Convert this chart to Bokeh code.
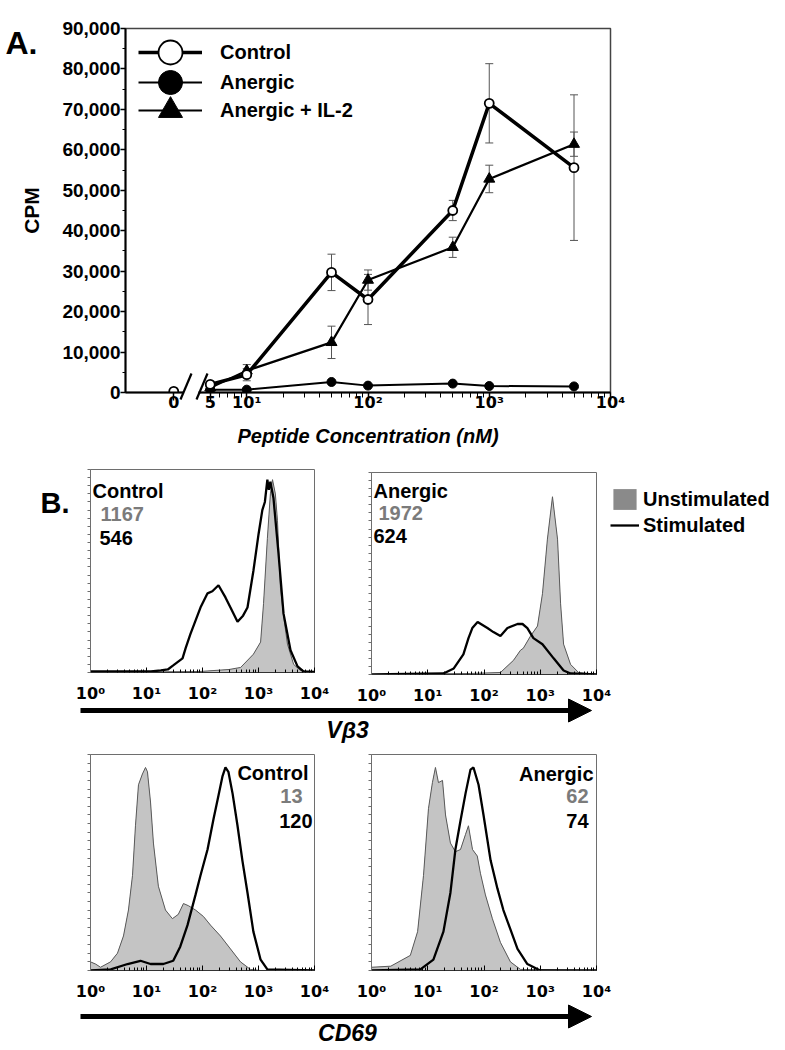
from bokeh.plotting import figure
from bokeh.models import (ColumnDataSource, FixedTicker, Whisker, TeeHead, Legend, LegendItem,
                          Label, Arrow, NormalHead, Range1d, NumeralTickFormatter)
from bokeh.layouts import column, row
from bokeh.embed import file_html
from bokeh.resources import INLINE

FONT = "Liberation Sans"
TICK_FONT = "DejaVu Sans"

# ---------------- Panel A data ----------------
conc_nM = [0, 5, 10, 50, 100, 500, 1000, 5000]
control_cpm = [300, 2000, 4400, 29700, 23000, 45000, 71500, 55600]
control_err = [0, 300, 1500, 4500, 6200, 2500, 9800, 18000]

stim_conc_nM = [5, 10, 50, 100, 500, 1000, 5000]
anergic_cpm = [700, 700, 2600, 1700, 2200, 1600, 1500]
anergic_err = [200, 200, 400, 300, 300, 200, 200]
il2_cpm = [1200, 5400, 12400, 27800, 35900, 52800, 61400]
il2_err = [300, 1500, 4000, 2500, 2500, 3400, 3000]

ZERO_POS = 2.5  # where the "0 nM" point sits, left of the axis break
x_tick_values = [2.5, 5, 10, 100, 1000, 10000]
x_tick_labels = ["0", "5", "10¹", "10²", "10³", "10⁴"]
y_tick_values = list(range(0, 90001, 10000))
series_names = ["Control", "Anergic", "Anergic + IL-2"]

# ---------------- Panel B data (relative cell counts, % of frame height) ----------------
hist_tick_values = [1, 10, 100, 1000, 10000]
hist_tick_labels = ["10⁰", "10¹", "10²", "10³", "10⁴"]

vb3_ctrl_unstim_x = [1, 90, 300, 480, 810, 1090, 1230, 1440, 1630, 1780, 2000, 2180, 2460, 2800, 3290, 4240, 5620, 10000]
vb3_ctrl_unstim_y = [0, 0.5, 1.5, 2.5, 9, 15, 34, 66, 88, 95, 88, 75, 42, 28, 14, 4, 1, 0]
vb3_ctrl_stim_x = [1, 12, 18, 24, 30, 44, 50, 61, 92, 123, 150, 193, 257, 316, 422, 530, 636, 810, 1000, 1170, 1300, 1440, 1530, 1630, 1850, 2270, 2800, 3730, 4980, 6340, 10000]
vb3_ctrl_stim_y = [0.5, 0.5, 1, 1.5, 3.5, 7, 12, 19, 32, 39, 40, 43, 37, 32, 25, 28, 32, 50, 68, 80, 84, 95, 90, 94, 86, 59, 29, 11, 3, 0.5, 0.3]

vb3_anerg_unstim_x = [1, 58, 196, 334, 445, 500, 670, 893, 1095, 1340, 1650, 2030, 2300, 2600, 3460, 4790, 10000]
vb3_anerg_unstim_y = [0, 0.5, 1, 7, 12, 13, 19, 24, 40, 67, 88, 67, 35, 15, 5, 1, 0]
vb3_anerg_stim_x = [1, 19, 29, 43, 53, 62, 77, 115, 147, 196, 261, 394, 484, 590, 756, 1095, 1730, 2600, 3460, 10000]
vb3_anerg_stim_y = [0, 0.5, 3, 10, 18, 23, 26, 23, 21, 19, 23, 25, 25, 23, 18, 15, 8, 2, 0.5, 0]

cd69_ctrl_unstim_x = [1, 1.23, 1.51, 2.28, 3.03, 3.88, 4.76, 5.62, 6.35, 7.19, 8.46, 9.6, 10.4, 11.8, 13.3, 16.3, 21.8, 29, 37, 45.7, 56, 75, 104, 139, 209, 316, 477, 720, 1080, 10000]
cd69_ctrl_unstim_y = [4, 3, 1.5, 4, 8, 16, 28, 44, 67, 86, 91, 94, 92, 78, 59, 39, 28, 24, 26, 31, 30, 28, 25, 21, 16, 10, 4, 0.5, 0, 0]
cd69_ctrl_stim_x = [1, 2.3, 4.6, 7.8, 11.8, 20, 30, 40, 54, 75, 92, 123, 157, 193, 228, 257, 290, 344, 422, 515, 636, 810, 1090, 1440, 10000]
cd69_ctrl_stim_y = [0, 0.5, 3, 4.5, 3, 3, 4.5, 11, 21, 35, 44, 56, 70, 81, 90, 94, 92, 82, 67, 51, 36, 18, 5, 0.5, 0]

cd69_anerg_unstim_x = [1, 2.2, 4.9, 6.6, 8.4, 10.3, 12.1, 13.7, 15.5, 18.3, 20.7, 25.3, 31, 38.2, 46.9, 52.9, 62.5, 76, 86.4, 106, 141, 196, 295, 445, 10000]
cd69_anerg_unstim_y = [1.5, 2, 7, 18, 44, 75, 87, 94, 87, 88, 72, 59, 55, 56, 63, 67, 56, 53, 45, 35, 24, 13, 4, 0.5, 0]
cd69_anerg_stim_x = [1, 7.4, 12.6, 19, 25.3, 31, 38, 47, 57.5, 65, 80, 98, 131, 173, 221, 295, 394, 590, 1000, 10000]
cd69_anerg_stim_y = [0, 0.5, 5, 18, 36, 56, 69, 82, 93, 94, 86, 72, 51, 38, 28, 19, 10, 3, 0, 0]


def overlay(width, height):
    """Transparent, axis-less figure whose data units are its own pixels (y downwards)."""
    p = figure(width=width, height=height, x_range=Range1d(0, width), y_range=Range1d(height, 0),
               x_axis_location=None, y_axis_location=None, min_border=0, frame_align=False,
               output_backend="svg", toolbar_location=None)
    p.grid.visible = False
    p.outline_line_color = None
    p.background_fill_alpha = 0
    p.border_fill_alpha = 0
    return p


# ======================= Panel A =======================
def xpos(c):
    return ZERO_POS if c == 0 else c


ctrl_src = ColumnDataSource(dict(x=[xpos(c) for c in conc_nM], y=control_cpm))
ctrl_line_src = ColumnDataSource(dict(x=[c for c in conc_nM if c > 0],
                                      y=[v for c, v in zip(conc_nM, control_cpm) if c > 0]))
ctrl_err_src = ColumnDataSource(dict(
    x=[xpos(c) for c, e in zip(conc_nM, control_err) if e > 0],
    upper=[v + e for v, e in zip(control_cpm, control_err) if e > 0],
    lower=[v - e for v, e in zip(control_cpm, control_err) if e > 0]))
anerg_src = ColumnDataSource(dict(x=stim_conc_nM, y=anergic_cpm,
                                  upper=[v + e for v, e in zip(anergic_cpm, anergic_err)],
                                  lower=[v - e for v, e in zip(anergic_cpm, anergic_err)]))
il2_src = ColumnDataSource(dict(x=stim_conc_nM, y=il2_cpm,
                                upper=[v + e for v, e in zip(il2_cpm, il2_err)],
                                lower=[v - e for v, e in zip(il2_cpm, il2_err)]))

pA = figure(x_axis_type="log", x_range=Range1d(1, 10000), y_range=Range1d(0, 90000),
            frame_width=485, frame_height=364, min_border_left=125, min_border_right=30,
            min_border_top=28, min_border_bottom=58, frame_align=False,
            output_backend="svg", toolbar_location=None)
pA.grid.visible = False
pA.outline_line_color = "#444444"
pA.outline_line_width = 1.5

for src in (ctrl_err_src, anerg_src, il2_src):
    pA.add_layout(Whisker(source=src, base="x", upper="upper", lower="lower", dimension="height",
                          line_color="#555555", line_width=1, level="underlay",
                          upper_head=TeeHead(size=8, line_color="#555555", line_width=1),
                          lower_head=TeeHead(size=8, line_color="#555555", line_width=1)))

l_ctrl = pA.line("x", "y", source=ctrl_line_src, line_color="black", line_width=3.5)
l_anerg = pA.line("x", "y", source=anerg_src, line_color="black", line_width=2)
l_il2 = pA.line("x", "y", source=il2_src, line_color="black", line_width=2.2)
m_anerg = pA.scatter("x", "y", source=anerg_src, marker="circle", size=9,
                     fill_color="black", line_color="black")
m_il2 = pA.scatter("x", "y", source=il2_src, marker="triangle", size=11,
                   fill_color="black", line_color="black")
m_ctrl = pA.scatter("x", "y", source=ctrl_src, marker="circle", size=9,
                    fill_color="white", line_color="black", line_width=1.8)

xa = pA.xaxis[0]
xa.ticker = FixedTicker(ticks=x_tick_values,
                        minor_ticks=[6, 7, 8, 9] + [d * k for d in (10, 100, 1000) for k in range(2, 10)])
xa.major_label_overrides = dict(zip(x_tick_values, x_tick_labels))
xa.axis_label = "Peptide Concentration (nM)"
xa.major_tick_out = 8
xa.major_tick_in = 0
xa.minor_tick_out = 5
xa.minor_tick_in = 0
xa.major_label_standoff = -8
xa.axis_label_standoff = 10
xa.major_label_text_font = TICK_FONT
xa.major_label_text_font_size = "16px"
xa.axis_label_text_font_size = "20px"
xa.axis_label_text_font_style = "bold italic"

ya = pA.yaxis[0]
ya.ticker = FixedTicker(ticks=y_tick_values, minor_ticks=list(range(5000, 90000, 10000)))
ya.formatter = NumeralTickFormatter(format="0,0")
ya.axis_label = "CPM"
ya.major_tick_out = 5
ya.major_tick_in = 0
ya.minor_tick_out = 3
ya.minor_tick_in = 0
ya.major_label_standoff = 0
ya.axis_label_standoff = 16
ya.major_label_text_font = FONT
ya.major_label_text_font_size = "19px"
ya.axis_label_text_font_size = "21px"
ya.axis_label_text_font_style = "bold"

for ax in (xa, ya):
    ax.axis_line_width = 2
    ax.axis_line_color = "black"
    ax.major_tick_line_width = 1.5
    ax.minor_tick_line_width = 1
    ax.major_label_text_font_style = "bold"
    ax.major_label_text_color = "black"
    ax.axis_label_text_font = FONT
    ax.axis_label_text_color = "black"

# one single-entry legend per series, so the entries can sit closer than the big glyph boxes
legend_rows_px = [52, 82, 110]  # centre of each entry, px from top of the figure
for name, rends, cy in zip(series_names,
                           [[l_ctrl, m_ctrl], [l_anerg, m_anerg], [l_il2, m_il2]],
                           legend_rows_px):
    pA.add_layout(Legend(items=[LegendItem(label=name, renderers=rends)],
                         location=(13, 392 - cy - 30), glyph_width=64, glyph_height=60,
                         padding=0, margin=0, label_standoff=18,
                         background_fill_alpha=0, border_line_alpha=0,
                         label_text_font=FONT, label_text_font_style="bold",
                         label_text_font_size="20px", label_text_color="black"))

# decorations outside the plot frame: panel letter and the axis break
ovA = overlay(640, 450)
ovA.add_layout(Label(x=5, y=42, text="A.", text_font=FONT, text_font_style="bold",
                     text_font_size="32px", text_baseline="alphabetic", text_color="black"))
ovA.segment(x0=[183], y0=[392], x1=[198], y1=[392], line_color="white", line_width=5)
ovA.segment(x0=[180, 196], y0=[399, 399], x1=[191, 207], y1=[373, 373],
            line_color="black", line_width=2.2)
ovA.margin = (-450, 0, 0, 0)

# ======================= Panel B =======================
hist_minor = [d * k for d in (1, 10, 100, 1000) for k in range(2, 10)]


def hist_panel(ux, uy, sx, sy, bl, br, bt, bb, fw, fh):
    p = figure(x_axis_type="log", x_range=Range1d(1, 10000), y_range=Range1d(0, 100),
               frame_width=fw, frame_height=fh, min_border_left=bl, min_border_right=br,
               min_border_top=bt, min_border_bottom=bb, frame_align=False,
               output_backend="svg", toolbar_location=None)
    p.grid.visible = False
    p.outline_line_color = "#6e6e6e"
    p.outline_line_width = 1
    legend_fill = p.varea(x=ux, y1=0, y2=uy, fill_color="#8a8a8a")  # swatch colour for the key
    p.varea(x=ux, y1=0, y2=uy, fill_color="#c4c4c4")
    p.line(ux, uy, line_color="#5a5a5a", line_width=1)
    stim_line = p.line(sx, sy, line_color="black", line_width=2.3)
    x_ax = p.xaxis[0]
    x_ax.ticker = FixedTicker(ticks=hist_tick_values, minor_ticks=hist_minor)
    x_ax.major_label_overrides = dict(zip(hist_tick_values, hist_tick_labels))
    x_ax.major_tick_out = 0
    x_ax.major_tick_in = 5
    x_ax.minor_tick_out = 0
    x_ax.minor_tick_in = 3
    x_ax.major_label_standoff = 11
    x_ax.axis_line_color = "#333333"
    x_ax.major_label_text_font = TICK_FONT
    x_ax.major_label_text_font_style = "bold"
    x_ax.major_label_text_font_size = "16px"
    x_ax.major_label_text_color = "black"
    y_ax = p.yaxis[0]
    y_ax.ticker = FixedTicker(ticks=[], minor_ticks=list(range(0, 101, 4)))
    y_ax.minor_tick_out = 3
    y_ax.minor_tick_in = 0
    y_ax.axis_line_color = "#6e6e6e"
    y_ax.minor_tick_line_color = "#6e6e6e"
    return p, legend_fill, stim_line


def add_text(p, x, y, text, color="black", align="left"):
    p.add_layout(Label(x=x, y=y, x_units="screen", y_units="screen", text=text,
                       text_font=FONT, text_font_style="bold", text_font_size="20px",
                       text_color=color, text_align=align, text_baseline="alphabetic"))


GRAY_TXT = "#7b7b7b"

pB1, _, _ = hist_panel(vb3_ctrl_unstim_x, vb3_ctrl_unstim_y, vb3_ctrl_stim_x, vb3_ctrl_stim_y,
                       90, 18, 19, 33, 224, 203)
add_text(pB1, 2, 182, "Control")
add_text(pB1, 10, 159, "1167", GRAY_TXT)
add_text(pB1, 9, 135, "546")

pB2, fill_r, stim_r = hist_panel(vb3_anerg_unstim_x, vb3_anerg_unstim_y, vb3_anerg_stim_x,
                                 vb3_anerg_stim_y, 39, 10, 22, 31, 225, 202)
add_text(pB2, 2, 184, "Anergic")
add_text(pB2, 7, 162, "1972", GRAY_TXT)
add_text(pB2, 2, 139, "624")
pB2.add_layout(Legend(items=[LegendItem(label="Unstimulated", renderers=[fill_r]),
                             LegendItem(label="Stimulated", renderers=[stim_r])],
                      location="top_left", glyph_width=29, glyph_height=26, spacing=0,
                      padding=0, margin=14, label_standoff=4,
                      background_fill_alpha=0, border_line_alpha=0,
                      label_text_font=FONT, label_text_font_style="bold",
                      label_text_font_size="20px", label_text_color="black"), "right")

ovB = overlay(90, 255)
ovB.add_layout(Label(x=40, y=50, text="B.", text_font=FONT, text_font_style="bold",
                     text_font_size="29px", text_baseline="alphabetic", text_color="black"))
ovB.margin = (-255, 0, 0, 0)

pB3, _, _ = hist_panel(cd69_ctrl_unstim_x, cd69_ctrl_unstim_y, cd69_ctrl_stim_x, cd69_ctrl_stim_y,
                       90, 18, 8, 33, 224, 216)
add_text(pB3, 218, 198, "Control", align="right")
add_text(pB3, 212, 175, "13", GRAY_TXT, align="right")
add_text(pB3, 222, 150, "120", align="right")

pB4, _, _ = hist_panel(cd69_anerg_unstim_x, cd69_anerg_unstim_y, cd69_anerg_stim_x,
                       cd69_anerg_stim_y, 39, 25, 8, 33, 225, 216)
add_text(pB4, 222, 197, "Anergic", align="right")
add_text(pB4, 217, 175, "62", GRAY_TXT, align="right")
add_text(pB4, 217, 150, "74", align="right")


def arrow_panel(h, bar_y, text, text_y):
    p = overlay(780, h)
    p.add_layout(Arrow(end=NormalHead(size=23, fill_color="black", line_color="black", line_width=1),
                       x_start=80, y_start=bar_y, x_end=591, y_end=bar_y,
                       line_width=5, line_color="black"))
    p.add_layout(Label(x=347, y=text_y, text=text, text_align="center", text_baseline="middle",
                       text_font=FONT, text_font_style="bold italic", text_font_size="23px",
                       text_color="black"))
    return p


arrow1 = arrow_panel(50, 14, "Vβ3", 33)
arrow1.margin = (-11, 0, 0, 0)
arrow2 = arrow_panel(48, 20, "CD69", 36)
arrow2.margin = (-7, 0, 0, 0)

layout = column(pA, ovA, row(pB1, pB2), ovB, arrow1, row(pB3, pB4), arrow2)

open("out.html", "w").write(file_html(layout, INLINE))
